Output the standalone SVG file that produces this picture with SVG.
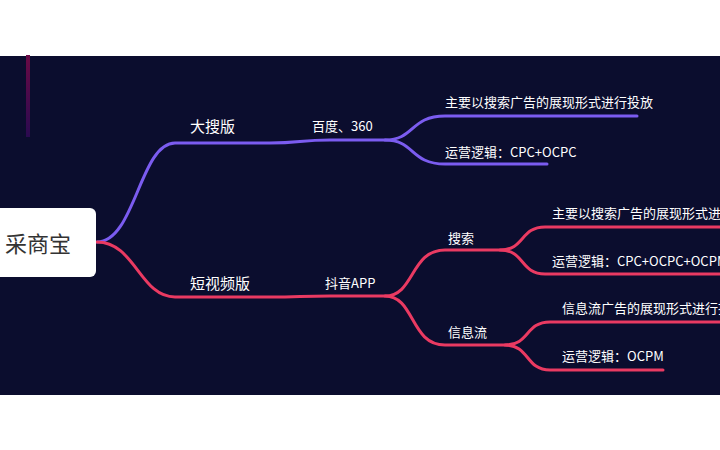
<svg xmlns="http://www.w3.org/2000/svg" width="720" height="450" viewBox="0 0 720 450">
<defs>
<linearGradient id="bar" x1="0" y1="0" x2="0" y2="1"><stop offset="0" stop-color="#6a0a45"/><stop offset="1" stop-color="#2a0a50"/></linearGradient>
<style>
.t{font-family:"Noto Sans CJK SC","Noto Sans",sans-serif;font-size:13px;fill:#ffffff}
.b{font-size:15px}
.p{fill:none;stroke:#7b5cf0;stroke-width:3;stroke-linecap:round}
.r{fill:none;stroke:#ea3a62;stroke-width:3;stroke-linecap:round}
</style>
</defs>
<rect width="720" height="450" fill="#ffffff"/>
<rect x="0" y="56" width="720" height="339" fill="#0b0d2e"/>
<rect x="26" y="55" width="4" height="82" fill="url(#bar)"/>
<g id="connectors">
<path class="p" d="M97,242 C135,242 140,143 175,143 L270,143 C300,143 300,140 330,140 L385,140 C415,140 410,116 445,116 L637,116"/>
<path class="p" d="M385,140 C415,140 410,164 445,164 L547,164"/>
<path class="r" d="M97,242 C135,242 140,297 175,297 L270,297 C300,297 300,296 330,296 L385,296 C415,296 410,250 445,250 L500,250 C525,250 520,227 545,227 L720,227"/>
<path class="r" d="M500,250 C525,250 520,274 545,274 L720,274"/>
<path class="r" d="M385,296 C415,296 410,345 445,345 L505,345 C530,345 525,322 550,322 L720,322"/>
<path class="r" d="M505,345 C530,345 525,370 550,370 L663,370"/>
</g>
<g id="root"><rect x="-10" y="208" width="106" height="69" rx="6" fill="#ffffff"/><text x="5" y="252" style="font-family:'Noto Sans CJK SC',sans-serif;font-size:22px;fill:#333">采商宝</text></g>
<g id="n1"><text class="t b" x="190" y="132">大搜版</text></g>
<g id="n2"><text class="t" x="312" y="131">百度、360</text></g>
<g id="n3"><text class="t" x="445" y="107">主要以搜索广告的展现形式进行投放</text></g>
<g id="n4"><text class="t" x="445" y="157">运营逻辑：CPC+OCPC</text></g>
<g id="n5"><text class="t b" x="190" y="289">短视频版</text></g>
<g id="n6"><text class="t" x="325" y="288">抖音APP</text></g>
<g id="n7"><text class="t" x="448" y="243">搜索</text></g>
<g id="n8"><text class="t" x="448" y="337">信息流</text></g>
<g id="n9"><text class="t" x="552" y="218">主要以搜索广告的展现形式进行投放</text></g>
<g id="n10"><text class="t" x="552" y="266">运营逻辑：CPC+OCPC+OCPM</text></g>
<g id="n11"><text class="t" x="562" y="313">信息流广告的展现形式进行投放</text></g>
<g id="n12"><text class="t" x="562" y="361">运营逻辑：OCPM</text></g>
</svg>
